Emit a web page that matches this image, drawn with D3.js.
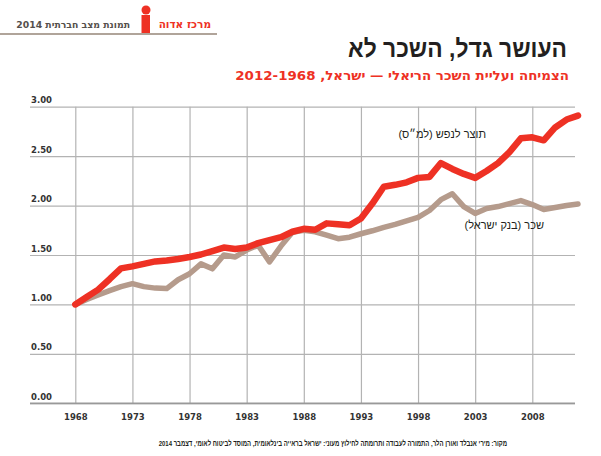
<!DOCTYPE html>
<html>
<head>
<meta charset="utf-8">
<script src="https://cdn.jsdelivr.net/npm/d3@7"></script>
<style>
  html, body { margin: 0; padding: 0; background: #fff; }
  svg { display: block; }
</style>
</head>
<body>
<div class="chart"></div>
<script>
// data, 1968 = 1.00
const years = [1968, 1969, 1970, 1971, 1972, 1973, 1974, 1975, 1976, 1977,
  1978, 1979, 1980, 1981, 1982, 1983, 1984, 1985, 1986, 1987,
  1988, 1989, 1990, 1991, 1992, 1993, 1994, 1995, 1996, 1997,
  1998, 1999, 2000, 2001, 2002, 2003, 2004, 2005, 2006, 2007,
  2008, 2009, 2010, 2011, 2012];

const gdpPerCapita = [1.00, 1.075, 1.15, 1.255, 1.365, 1.385, 1.41, 1.435, 1.445, 1.46,
  1.48, 1.505, 1.54, 1.575, 1.56, 1.575, 1.62, 1.65, 1.68, 1.735,
  1.765, 1.755, 1.82, 1.81, 1.80, 1.87, 2.02, 2.19, 2.21, 2.235,
  2.28, 2.29, 2.43, 2.37, 2.32, 2.28, 2.35, 2.43, 2.54, 2.68,
  2.69, 2.66, 2.79, 2.87, 2.91];

const wages = [1.00, 1.05, 1.095, 1.14, 1.18, 1.21, 1.18, 1.165, 1.16, 1.25,
  1.31, 1.41, 1.36, 1.50, 1.48, 1.55, 1.60, 1.43, 1.59, 1.73,
  1.75, 1.735, 1.70, 1.665, 1.68, 1.715, 1.745, 1.78, 1.81, 1.845,
  1.88, 1.95, 2.06, 2.12, 1.99, 1.92, 1.97, 1.99, 2.02, 2.05,
  2.01, 1.96, 1.98, 2.00, 2.015];

const xTicks = [1968, 1973, 1978, 1983, 1988, 1993, 1998, 2003, 2008];
const yTicks = [0, 0.5, 1, 1.5, 2, 2.5, 3];

const seriesNames = ['תוצר לנפש (למ״ס)', 'שכר (בנק ישראל)'];

let config = {
  width: 601,
  height: 456,
  red: '#ee3124',
  tan: '#b59b8c',
  grid: '#b3b3b3',
  hebFont: '"Liberation Sans", "DejaVu Sans", sans-serif',
  numFont: '"DejaVu Sans", sans-serif'
};

let svg = d3.select('div.chart').append('svg')
  .attr('width', config.width)
  .attr('height', config.height);

// squeeze a text horizontally so it spans the given width (right-anchored)
function fitText(sel, xRight, yBase, width) {
  let w = sel.node().getComputedTextLength();
  sel.attr('x', 0).attr('y', 0)
    .attr('transform', 'translate(' + xRight + ',' + yBase + ') scale(' + (width / w) + ',1)');
}

// ---- header strip ----
svg.append('line')
  .attr('x1', 0).attr('x2', 217).attr('y1', 34).attr('y2', 34)
  .attr('stroke', '#b0a49a').attr('stroke-width', 2);

svg.append('circle')
  .attr('cx', 146).attr('cy', 10).attr('r', 4.5)
  .attr('fill', config.red);
svg.append('rect')
  .attr('x', 141.5).attr('y', 15).attr('width', 8.5).attr('height', 18)
  .attr('fill', config.red);

svg.append('text')
  .attr('x', 211).attr('y', 28)
  .attr('direction', 'rtl')
  .attr('font-family', config.numFont)
  .attr('font-weight', 'bold')
  .attr('font-size', 10.5)
  .attr('fill', config.red)
  .text('מרכז אדוה');

let headerText = svg.append('text')
  .attr('direction', 'rtl')
  .attr('font-family', config.numFont)
  .attr('font-weight', 'bold')
  .attr('font-size', 9)
  .attr('fill', '#55504c')
  .text('תמונת מצב חברתית 2014');
fitText(headerText, 130, 28, 114);

// ---- titles ----
let title = svg.append('text')
  .attr('direction', 'rtl')
  .attr('font-family', config.hebFont)
  .attr('font-weight', 'bold')
  .attr('font-size', 25)
  .attr('fill', '#231f20')
  .text('העושר גדל, השכר לא');
fitText(title, 567, 57, 219);

let subtitle = svg.append('text')
  .attr('direction', 'rtl')
  .attr('font-family', config.numFont)
  .attr('font-weight', 'bold')
  .attr('font-size', 13)
  .attr('fill', config.red)
  .text('הצמיחה ועליית השכר הריאלי — ישראל, 2012-1968');
fitText(subtitle, 569, 80, 334);

// ---- scales ----
let x = d3.scaleLinear().domain([1968, 2012]).range([75.3, 578]);
let y = d3.scaleLinear().domain([0, 3]).range([403.3, 106.7]);
let left = 30, right = 575;

// horizontal grid + y labels
let yAxis = svg.append('g')
  .attr('transform', 'translate(' + left + ',0)')
  .call(d3.axisRight(y).tickValues(yTicks).tickSize(right - left)
    .tickFormat(d3.format('.2f')));
yAxis.select('.domain').remove();
yAxis.selectAll('.tick line')
  .attr('stroke', config.grid).attr('stroke-width', 1.2);
yAxis.selectAll('.tick text')
  .attr('x', 1).attr('dy', -4)
  .attr('text-anchor', 'start')
  .attr('font-family', config.numFont)
  .attr('font-weight', 'bold')
  .attr('font-size', 8.5)
  .attr('fill', '#333');

// vertical grid + x labels
let xAxis = svg.append('g')
  .attr('transform', 'translate(0,' + y(0) + ')')
  .call(d3.axisTop(x).tickValues(xTicks).tickSize(y(0) - y(3)).tickFormat(d3.format('d')));
xAxis.select('.domain').remove();
xAxis.selectAll('.tick line')
  .attr('stroke', config.grid).attr('stroke-width', 1.2);
xAxis.selectAll('.tick text')
  .attr('y', 17).attr('dy', 0)
  .attr('font-family', config.numFont)
  .attr('font-weight', 'bold')
  .attr('font-size', 8.5)
  .attr('fill', '#333');

svg.append('line')
  .attr('x1', left).attr('x2', right)
  .attr('y1', y(0)).attr('y2', y(0))
  .attr('stroke', '#999').attr('stroke-width', 1.5);

// ---- lines ----
let line = d3.line()
  .x(d => x(d[0]))
  .y(d => y(d[1]));

svg.append('path')
  .attr('d', line(years.map((yr, i) => [yr, wages[i]])))
  .attr('fill', 'none')
  .attr('stroke', config.tan)
  .attr('stroke-width', 5.5)
  .attr('stroke-linejoin', 'round')
  .attr('stroke-linecap', 'round');

svg.append('path')
  .attr('d', line(years.map((yr, i) => [yr, gdpPerCapita[i]])))
  .attr('fill', 'none')
  .attr('stroke', config.red)
  .attr('stroke-width', 6.5)
  .attr('stroke-linejoin', 'round')
  .attr('stroke-linecap', 'round');

// series labels
svg.append('text')
  .attr('x', 486).attr('y', 138)
  .attr('direction', 'rtl')
  .attr('font-family', config.hebFont)
  .attr('font-size', 11)
  .attr('fill', '#231f20')
  .text(seriesNames[0]);

svg.append('text')
  .attr('x', 544).attr('y', 229)
  .attr('direction', 'rtl')
  .attr('font-family', config.hebFont)
  .attr('font-size', 11)
  .attr('fill', '#231f20')
  .text(seriesNames[1]);

// ---- source ----
let source = svg.append('text')
  .attr('direction', 'rtl')
  .attr('font-family', config.hebFont)
  .attr('font-weight', 'bold')
  .attr('font-size', 7.5)
  .attr('fill', '#231f20')
  .text('מקור: מירי אנבלד ואורן הלר, התמורה לעבודה ותרומתה לחילוץ מעוני: ישראל בראייה בינלאומית, המוסד לביטוח לאומי, דצמבר 2014');
fitText(source, 507, 446, 349);
</script>
</body>
</html>
